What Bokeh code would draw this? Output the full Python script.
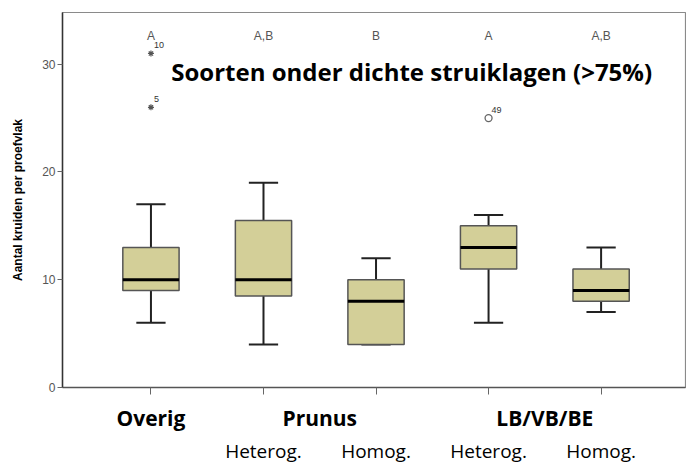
from bokeh.plotting import figure
from bokeh.models import Range1d, FixedTicker, Label, ColumnDataSource, LinearAxis
from bokeh.embed import file_html
from bokeh.resources import INLINE

# ---- data ----
groups = ["Overig", "Prunus Heterog.", "Prunus Homog.", "LB/VB/BE Heterog.", "LB/VB/BE Homog."]
whisker_low = [6, 4, 4, 6, 7]
q1 = [9, 8.5, 4, 11, 8]
median = [10, 10, 8, 13, 9]
q3 = [13, 15.5, 10, 15, 11]
whisker_high = [17, 19, 12, 16, 13]
letters = ["A", "A,B", "B", "A", "A,B"]
extreme_group = [0, 0]
extreme_value = [31, 26]
extreme_id = ["10", "5"]
outlier_group = [3]
outlier_value = [25]
outlier_id = ["49"]
main_labels = ["Overig", "Prunus", "LB/VB/BE"]
main_label_pos = [0, 1.5, 3.5]
sub_labels = ["Heterog.", "Homog.", "Heterog.", "Homog."]
sub_label_pos = [1, 2, 3, 4]
y_ticks = [0, 10, 20, 30]
title_text = "Soorten onder dichte struiklagen (>75%)"
y_title = "Aantal kruiden per proefvlak"
letter_y = 32.6

xs = list(range(len(groups)))

p = figure(width=686, height=466, output_backend="svg", toolbar_location=None,
           x_range=Range1d(-0.786, 4.75), y_range=Range1d(0, 34.8),
           min_border_left=62, min_border_right=1, min_border_top=12, min_border_bottom=78)
p.grid.visible = False
p.outline_line_color = "#8a8a8a"
p.outline_line_width = 1.2
p.background_fill_color = "white"
p.border_fill_color = "white"

# axes
p.xaxis.ticker = FixedTicker(ticks=xs)
p.xaxis.major_label_overrides = {i: "" for i in xs}
p.xaxis.major_label_text_font_size = "1px"
p.xaxis.major_label_standoff = 0
p.xaxis.axis_line_color = "#555555"
p.xaxis.axis_line_width = 1.5
p.xaxis.major_tick_line_color = "#666666"
p.xaxis.major_tick_out = 7
p.xaxis.major_tick_in = 0
p.xaxis.minor_tick_line_color = None

# category label rows
ax1 = LinearAxis(ticker=FixedTicker(ticks=main_label_pos),
                 major_label_overrides={v: t for v, t in zip(main_label_pos, main_labels)})
ax2 = LinearAxis(ticker=FixedTicker(ticks=sub_label_pos),
                 major_label_overrides={v: t for v, t in zip(sub_label_pos, sub_labels)})
for ax, fs, st, stand in ((ax1, "21px", "bold", 9), (ax2, "19px", "normal", 3)):
    ax.axis_line_color = None
    ax.major_tick_line_color = None
    ax.minor_tick_line_color = None
    ax.major_tick_out = 0
    ax.major_tick_in = 0
    ax.major_label_text_font = "Open Sans"
    ax.major_label_text_font_size = fs
    ax.major_label_text_font_style = st
    ax.major_label_text_color = "black"
    ax.major_label_standoff = stand
    p.add_layout(ax, "below")

p.yaxis.ticker = FixedTicker(ticks=y_ticks)
p.yaxis.axis_line_color = "#333333"
p.yaxis.axis_line_width = 1.5
p.yaxis.major_tick_line_color = "#666666"
p.yaxis.major_tick_out = 5
p.yaxis.major_tick_in = 0
p.yaxis.minor_tick_line_color = None
p.yaxis.major_label_text_font = "Liberation Sans"
p.yaxis.major_label_text_font_size = "12px"
p.yaxis.major_label_text_color = "#555555"
p.yaxis.major_label_standoff = 2
p.yaxis.axis_label = y_title
p.yaxis.axis_label_text_font = "Liberation Sans"
p.yaxis.axis_label_text_font_style = "bold"
p.yaxis.axis_label_text_font_size = "12px"
p.yaxis.axis_label_text_color = "black"
p.yaxis.axis_label_standoff = 14

src = ColumnDataSource(dict(x=xs, lo=whisker_low, q1=q1, med=median, q3=q3, hi=whisker_high))
# whiskers
p.segment(x0="x", x1="x", y0="lo", y1="q1", source=src, line_color="#222222", line_width=2)
p.segment(x0="x", x1="x", y0="q3", y1="hi", source=src, line_color="#222222", line_width=2)
cap = 0.13
p.segment(x0=[x - cap for x in xs], x1=[x + cap for x in xs], y0=whisker_low, y1=whisker_low,
          line_color="#222222", line_width=2)
p.segment(x0=[x - cap for x in xs], x1=[x + cap for x in xs], y0=whisker_high, y1=whisker_high,
          line_color="#222222", line_width=2)
# boxes
p.vbar(x="x", width=0.5, bottom="q1", top="q3", source=src, fill_color="#D3CF98",
       line_color="#555555", line_width=1.5)
p.segment(x0=[x - 0.25 for x in xs], x1=[x + 0.25 for x in xs], y0=median, y1=median,
          line_color="black", line_width=3)

# extremes and outliers
p.scatter(extreme_group, extreme_value, marker="asterisk", size=6, line_color="#555555", line_width=1.2)
p.scatter(outlier_group, outlier_value, marker="circle", size=7, fill_color=None,
          line_color="#666666", line_width=1.3)
for g, v, t in zip(extreme_group + outlier_group, extreme_value + outlier_value, extreme_id + outlier_id):
    p.add_layout(Label(x=g, y=v, text=t, x_offset=3, y_offset=5, text_font="Liberation Sans",
                       text_font_size="9px", text_color="#333333"))

# significance letters
for x, t in zip(xs, letters):
    p.add_layout(Label(x=x, y=letter_y, text=t, text_align="center", text_baseline="middle",
                       text_font="Liberation Sans", text_font_size="12px", text_color="#555555"))

# title inside plot
p.add_layout(Label(x=0.18, y=29.3, text=title_text, text_align="left", text_baseline="middle",
                   text_font="Open Sans", text_font_style="bold", text_font_size="24px",
                   text_color="black"))

open("out.html", "w").write(file_html(p, INLINE))
